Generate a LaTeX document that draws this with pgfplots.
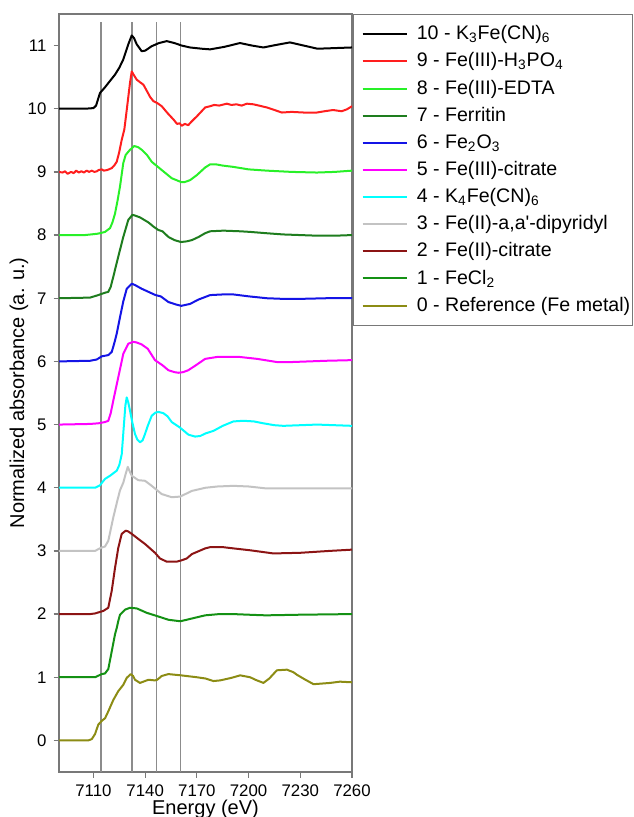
\documentclass[border=0pt]{standalone}
\usepackage{fontspec}
\setmainfont{Liberation Sans}
\usepackage{pgfplots}
\pgfplotsset{compat=1.18}
\definecolor{cframe}{RGB}{120,120,120}
\definecolor{cvline}{RGB}{140,140,140}
\definecolor{c10}{RGB}{0,0,0}
\definecolor{c9}{RGB}{255,30,30}
\definecolor{c8}{RGB}{40,240,40}
\definecolor{c7}{RGB}{30,125,30}
\definecolor{c6}{RGB}{20,20,230}
\definecolor{c5}{RGB}{255,0,255}
\definecolor{c4}{RGB}{0,255,255}
\definecolor{c3}{RGB}{195,195,195}
\definecolor{c2}{RGB}{140,20,20}
\definecolor{c1}{RGB}{20,145,20}
\definecolor{c0}{RGB}{140,140,20}
\begin{document}
\begin{tikzpicture}
\useasboundingbox (0,0) rectangle (316.5pt,408.5pt);
\begin{axis}[
  at={(29.5pt,22.5pt)}, anchor=south west,
  scale only axis, width=146.5pt, height=379pt,
  xmin=7090, xmax=7260, ymin=-0.5, ymax=11.5,
  xtick={7110,7140,7170,7200,7230,7260},
  ytick={0,1,2,3,4,5,6,7,8,9,10,11},
  tick align=outside, tick pos=left, major tick length=2.75pt,
  axis line style={draw=cframe, line width=0.65pt},
  every tick/.style={draw=cframe, line width=0.6pt},
  scaled ticks=false,
  /pgf/number format/1000 sep={},
  /pgf/number format/assume math mode=true,
  tick label style={font=\fontsize{8.4}{10}\selectfont},
  label style={font=\fontsize{8.5}{10}\selectfont},
  xlabel={Energy (eV)},
  ylabel={Normalized absorbance (a. u.)},
  every axis x label/.style={at={(axis description cs:0.5,0)}, yshift=-21.2pt, anchor=base},
  every axis y label/.style={at={(axis description cs:0,0.5)}, xshift=-20pt, rotate=90, anchor=center},
  every axis plot/.append style={line width=1pt, line join=round},
  legend style={at={(1,1)}, anchor=north west, xshift=0.5pt, draw=cframe, line width=0.6pt,
    font=\fontsize{9.8}{11.5}\selectfont, inner xsep=0.5pt, inner ysep=3.5pt, row sep=1pt,
    nodes={inner xsep=0.5pt}, cells={anchor=west}},
  legend cell align={left},
  legend image code/.code={
    \draw[opacity=0, line width=0.1pt] (-4pt,0pt) -- (26.5pt,0pt);
    \draw[#1, line width=1pt] (0pt,0pt) -- (22pt,0pt);},
]
\addplot[cvline, line width=0.6pt, forget plot] coordinates {(7114.4,-0.5) (7114.4,11.38)};
\addplot[cvline, line width=0.6pt, forget plot] coordinates {(7132.4,-0.5) (7132.4,11.38)};
\addplot[cvline, line width=0.6pt, forget plot] coordinates {(7146.5,-0.5) (7146.5,11.38)};
\addplot[cvline, line width=0.6pt, forget plot] coordinates {(7160.7,-0.5) (7160.7,11.38)};

% 10 - K3Fe(CN)6
\addplot[c10] coordinates {
  (7090,10.0) (7105,10.0) (7110,10.01) (7111.5,10.05) (7113.8,10.25) (7116.7,10.34)
  (7119,10.42) (7122.5,10.54) (7125,10.65) (7127.3,10.78) (7130.2,11.02) (7132.2,11.16)
  (7133.5,11.12) (7135.1,11.02) (7138,10.91) (7140,10.92) (7143.8,10.99) (7148,11.04)
  (7152.5,11.07) (7157,11.04) (7161.2,11.0) (7166,10.97) (7172.9,10.95) (7177.7,10.94)
  (7186,10.98) (7195,11.04) (7202,11.0) (7208.6,10.97) (7216,11.01) (7224,11.05)
  (7232,11.0) (7240,10.95) (7250,10.96) (7260,10.97)
};
\addlegendentry{10 - K\textsubscript{3}Fe(CN)\textsubscript{6}}

% 9 - Fe(III)-H3PO4
\addplot[c9] coordinates {
  (7090,9.0) (7092,8.99) (7093.5,9.01) (7095,8.97) (7097,9.0) (7098.5,8.98) (7100,9.02)
  (7101.5,8.99) (7103,9.01) (7104.5,8.99) (7106,9.02) (7107.5,9.0) (7109,9.02) (7110.5,9.0)
  (7112,9.01) (7113,9.03) (7114.8,9.04) (7116,9.02) (7118,9.03) (7120.6,9.06) (7122,9.10)
  (7123.5,9.16) (7125,9.32) (7126.4,9.51) (7127.9,9.67) (7129.3,9.98) (7131.2,10.41)
  (7132.2,10.59) (7133.5,10.53) (7135.1,10.46) (7137,10.42) (7139,10.38) (7141,10.28)
  (7143,10.18) (7144.8,10.12) (7147,10.09) (7149.6,10.04) (7153,9.93) (7156.4,9.83)
  (7158.5,9.76) (7160,9.77) (7161.2,9.73) (7163,9.76) (7165,9.74) (7167,9.80) (7170,9.88)
  (7174.8,10.02) (7177.7,10.04) (7180,10.06) (7183,10.05) (7187.4,10.08) (7190,10.06)
  (7193,10.07) (7196,10.05) (7199,10.08) (7202.8,10.07) (7206,10.05) (7210.6,10.02)
  (7215,9.98) (7219.3,9.94) (7225,9.95) (7232,9.94) (7239.6,9.94) (7244,9.96) (7249,9.98)
  (7254,9.96) (7257,9.99) (7260,10.04)
};
\addlegendentry{9 - Fe(III)-H\textsubscript{3}PO\textsubscript{4}}

% 8 - Fe(III)-EDTA
\addplot[c8] coordinates {
  (7090,8.0) (7105,8.0) (7112,8.02) (7113.8,8.03) (7116.7,8.05) (7119.6,8.11) (7121,8.2)
  (7122.5,8.34) (7124,8.55) (7125.4,8.77) (7127.3,9.14) (7128.7,9.27) (7131.2,9.35)
  (7133.7,9.41) (7136,9.39) (7138,9.35) (7141,9.27) (7143.8,9.16) (7149.6,9.03)
  (7155.4,8.90) (7160.8,8.84) (7163,8.84) (7166.1,8.87) (7170,8.95) (7174.8,9.07)
  (7177.7,9.12) (7181,9.12) (7185,9.10) (7191,9.08) (7200,9.04) (7210.6,9.02) (7225,9.0)
  (7239.6,8.99) (7250,9.0) (7260,9.02)
};
\addlegendentry{8 - Fe(III)-EDTA}

% 7 - Ferritin
\addplot[c7] coordinates {
  (7090,7.0) (7108,7.01) (7112.8,7.05) (7114.8,7.07) (7117,7.09) (7118.6,7.10) (7120,7.18)
  (7121.5,7.34) (7124.4,7.66) (7127.3,7.97) (7130.2,8.24) (7132.6,8.32) (7134,8.31)
  (7137,8.28) (7141.9,8.20) (7145,8.13) (7147.7,8.08) (7150,8.06) (7153.5,7.97) (7157,7.92)
  (7160.8,7.89) (7164,7.90) (7167.1,7.92) (7171,7.97) (7174.8,8.03) (7177.7,8.06)
  (7185.4,8.07) (7195,8.06) (7201,8.05) (7210,8.03) (7220,8.01) (7230,8.0) (7240,7.99)
  (7250,7.99) (7260,8.0)
};
\addlegendentry{7 - Ferritin}

% 6 - Fe2O3
\addplot[c6] coordinates {
  (7090,6.0) (7108,6.01) (7111.9,6.03) (7114.8,6.08) (7118.6,6.10) (7120.6,6.15) (7122,6.28)
  (7123.5,6.44) (7125.4,6.70) (7127.3,6.95) (7129.3,7.15) (7132.2,7.23) (7134,7.21)
  (7138,7.15) (7142,7.10) (7146,7.05) (7149,7.03) (7153.5,6.94) (7158,6.90) (7161,6.88)
  (7166,6.91) (7171,6.98) (7177.7,7.05) (7185,7.06) (7191.2,7.06) (7200,7.03) (7210.6,7.0)
  (7220,6.99) (7230,6.99) (7245,7.0) (7260,7.0)
};
\addlegendentry{6 - Fe\textsubscript{2}O\textsubscript{3}}

% 5 - Fe(III)-citrate
\addplot[c5] coordinates {
  (7090,5.0) (7108,5.01) (7112.8,5.02) (7116.7,5.04) (7118.6,5.06) (7120,5.18) (7121.5,5.38)
  (7124.4,5.75) (7127.3,6.12) (7130.2,6.28) (7133.1,6.31) (7135,6.30) (7137.9,6.27)
  (7141.5,6.20) (7145.7,6.02) (7150,5.94) (7153.5,5.86) (7157,5.83) (7159.3,5.82)
  (7162,5.83) (7165,5.86) (7170,5.95) (7174.8,6.04) (7181.6,6.07) (7190,6.07) (7195,6.07)
  (7205,6.04) (7216.4,5.99) (7225,5.99) (7235,6.0) (7245,6.01) (7260,6.02)
};
\addlegendentry{5 - Fe(III)-citrate}

% 4 - K4Fe(CN)6
\addplot[c4] coordinates {
  (7090,4.0) (7108,4.0) (7110.9,4.0) (7112.5,4.02) (7113.8,4.04) (7116.7,4.14) (7119.6,4.19)
  (7123.5,4.27) (7125,4.36) (7126.4,4.53) (7127.7,5.01) (7128.5,5.30) (7129.3,5.43)
  (7130.2,5.35) (7131.2,5.22) (7132.5,5.04) (7134.1,4.85) (7135.5,4.76) (7137,4.72)
  (7138.5,4.75) (7139.9,4.85) (7141.5,4.98) (7143.8,5.14) (7146,5.19) (7147.7,5.20)
  (7150.6,5.18) (7153,5.13) (7155.4,5.04) (7160.3,4.95) (7165.1,4.84) (7169,4.81)
  (7172,4.82) (7175,4.86) (7179.6,4.90) (7185,4.98) (7191.2,5.05) (7197,5.06) (7203,5.05)
  (7208.6,5.02) (7215,4.99) (7220.2,4.98) (7230,4.99) (7239.6,5.0) (7250,4.99) (7260,4.98)
};
\addlegendentry{4 - K\textsubscript{4}Fe(CN)\textsubscript{6}}

% 3 - Fe(II)-a,a'-dipyridyl
\addplot[c3] coordinates {
  (7090,3.0) (7108,3.0) (7110.9,3.0) (7114.4,3.05) (7116.7,3.07) (7118.6,3.16) (7121.5,3.53)
  (7123.8,3.79) (7125.4,3.96) (7127.3,4.08) (7128.7,4.22) (7129.9,4.33) (7131,4.26)
  (7132.2,4.19) (7136,4.12) (7139.9,4.11) (7143.8,4.03) (7149.6,3.90) (7155.4,3.85)
  (7160.3,3.86) (7167.1,3.95) (7175,4.0) (7182,4.02) (7191.2,4.03) (7200,4.02) (7210,3.99)
  (7230,3.99) (7260,3.99)
};
\addlegendentry{3 - Fe(II)-a,a\textquotesingle-dipyridyl}

% 2 - Fe(II)-citrate
\addplot[c2] coordinates {
  (7090,2.0) (7108,2.0) (7110.9,2.01) (7115.7,2.05) (7118.6,2.10) (7120.6,2.37) (7122.5,2.73)
  (7124.4,3.05) (7126.4,3.27) (7128.7,3.32) (7130,3.31) (7132.2,3.27) (7136,3.19)
  (7139.9,3.11) (7145.7,2.97) (7148.6,2.88) (7152.5,2.83) (7158.3,2.83) (7161,2.85)
  (7164.1,2.88) (7167.1,2.95) (7174.8,3.04) (7177.7,3.06) (7185,3.06) (7191.2,3.04)
  (7200.9,3.01) (7214.4,2.96) (7229.9,2.97) (7247,3.0) (7260,3.02)
};
\addlegendentry{2 - Fe(II)-citrate}

% 1 - FeCl2
\addplot[c1] coordinates {
  (7090,1.0) (7108,1.0) (7110.9,1.0) (7114.8,1.05) (7116.7,1.06) (7118.6,1.13) (7120.6,1.41)
  (7122.5,1.68) (7123.5,1.78) (7124.4,1.89) (7125.4,1.99) (7128.3,2.07) (7131.2,2.10)
  (7135.1,2.09) (7140.9,2.02) (7146.7,1.97) (7153.5,1.91) (7159.3,1.89) (7161,1.89)
  (7167.1,1.93) (7174.8,1.98) (7183,2.0) (7191,2.0) (7200,1.99) (7210,1.98) (7230,1.99)
  (7260,2.0)
};
\addlegendentry{1 - FeCl\textsubscript{2}}

% 0 - Reference (Fe metal)
\addplot[c0] coordinates {
  (7090,0.0) (7107,0.0) (7109,0.02) (7110.9,0.10) (7112.8,0.25) (7114.8,0.31) (7116.7,0.35)
  (7118.6,0.46) (7121.5,0.64) (7124.4,0.78) (7127.3,0.88) (7129.3,0.99) (7131.6,1.05)
  (7133,1.02) (7134.1,0.96) (7137,0.91) (7139.9,0.94) (7141.9,0.96) (7145.7,0.95)
  (7147,0.96) (7149.6,1.02) (7153.5,1.05) (7160.8,1.03) (7170,1.0) (7175,0.98)
  (7179.6,0.94) (7183.5,0.95) (7190,0.99) (7195.1,1.03) (7200.9,1.0) (7204,0.96)
  (7208.6,0.91) (7212,0.98) (7216.4,1.11) (7222.2,1.12) (7226,1.08) (7228,1.04) (7233,0.96)
  (7237.7,0.89) (7247.3,0.91) (7253,0.93) (7260,0.92)
};
\addlegendentry{0 - Reference (Fe metal)}
\end{axis}
\end{tikzpicture}
\end{document}
